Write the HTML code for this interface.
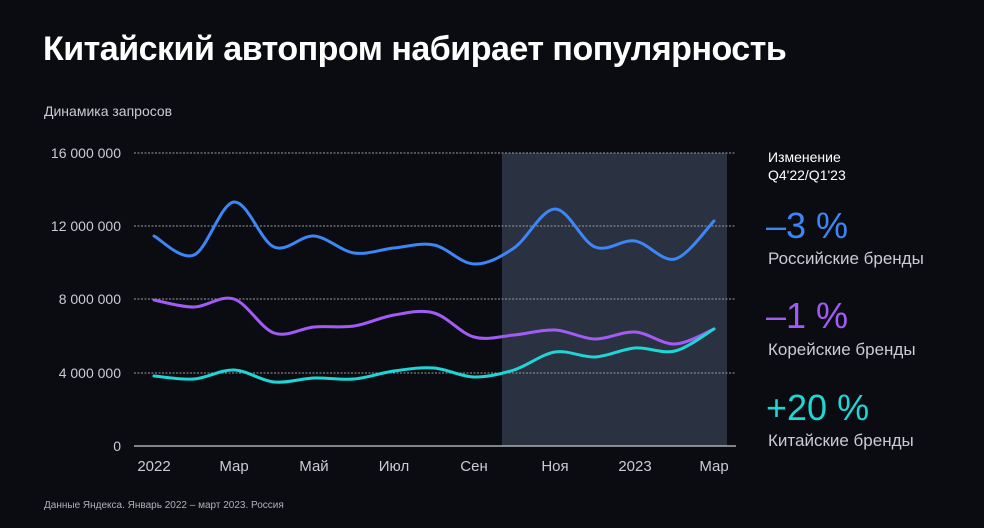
<!DOCTYPE html>
<html><head><meta charset="utf-8"><style>
body{margin:0;background:#0b0c11;width:984px;height:528px;overflow:hidden;font-family:"Liberation Sans",sans-serif;color:#fff;position:relative}
.t{position:absolute;white-space:nowrap}
</style></head><body>
<div class="t" style="left:43px;top:30px;font-size:34px;font-weight:bold;letter-spacing:-0.5px">Китайский автопром набирает популярность</div>
<div class="t" style="left:44px;top:103px;font-size:14px;color:#c9ccd4">Динамика запросов</div>
<svg width="984" height="528" style="position:absolute;left:0;top:0">
<rect x="502" y="153" width="225" height="293" fill="#2a3140"/>
<g stroke="#9a9ca3" stroke-width="1" stroke-dasharray="2,1.5">
<line x1="134" y1="153" x2="736" y2="153"/><line x1="134" y1="226" x2="736" y2="226"/>
<line x1="134" y1="299" x2="736" y2="299"/><line x1="134" y1="373" x2="736" y2="373"/>
</g>
<line x1="134" y1="446" x2="736" y2="446" stroke="#c9ccd4" stroke-width="1.2"/>
<g font-size="14" fill="#c9ccd4" text-anchor="end" font-family="Liberation Sans">
<text x="121" y="158">16 000 000</text><text x="121" y="231">12 000 000</text>
<text x="121" y="304">8 000 000</text><text x="121" y="378">4 000 000</text><text x="121" y="451">0</text>
</g>
<g font-size="15" fill="#c9ccd4" text-anchor="middle" font-family="Liberation Sans">
<text x="154" y="471">2022</text><text x="234" y="471">Мар</text><text x="314" y="471">Май</text>
<text x="394" y="471">Июл</text><text x="474" y="471">Сен</text><text x="555" y="471">Ноя</text>
<text x="635" y="471">2023</text><text x="714" y="471">Мар</text>
</g>
<path id="pb" fill="none" stroke="#3d86f5" stroke-width="3" stroke-linecap="round"/>
<path id="pp" fill="none" stroke="#a25cf5" stroke-width="3" stroke-linecap="round"/>
<path id="pc" fill="none" stroke="#1fd6d6" stroke-width="3" stroke-linecap="round"/>
</svg>
<div class="t" style="left:768px;top:148px;font-size:14px;line-height:18px">Изменение<br>Q4'22/Q1'23</div>
<div class="t" style="left:766px;top:205px;font-size:36px;color:#3d86f5">–3 %</div>
<div class="t" style="left:768px;top:249px;font-size:17px;color:#c9ccd4">Российские бренды</div>
<div class="t" style="left:766px;top:295px;font-size:36px;color:#a25cf5">–1 %</div>
<div class="t" style="left:768px;top:340px;font-size:17px;color:#c9ccd4">Корейские бренды</div>
<div class="t" style="left:766px;top:387px;font-size:36px;color:#1fd6d6">+20 %</div>
<div class="t" style="left:768px;top:431px;font-size:17px;color:#c9ccd4">Китайские бренды</div>
<div class="t" style="left:44px;top:500px;font-size:10px;color:#aeb1b9">Данные Яндекса. Январь 2022 – март 2023. Россия</div>
<script>
var xs=[154,194,234,274,314,354,394,434,474,514,555,595,635,675,714];
function path(ys){var p=xs.map((x,i)=>[x,ys[i]]);var d="M"+p[0][0]+","+p[0][1];
for(var i=0;i<p.length-1;i++){var p0=p[i-1]||p[i],p1=p[i],p2=p[i+1],p3=p[i+2]||p2;
var c1=[p1[0]+(p2[0]-p0[0])/6,p1[1]+(p2[1]-p0[1])/6],c2=[p2[0]-(p3[0]-p1[0])/6,p2[1]-(p3[1]-p1[1])/6];
d+=" C"+c1+" "+c2+" "+p2;}return d;}
document.getElementById("pb").setAttribute("d",path([236,255,202,247,236,253,248,245,264,248,209,247,241,259,221]));
document.getElementById("pp").setAttribute("d",path([300,307,299,333,327,326,315,313,337,335,330,339,332,344,329]));
document.getElementById("pc").setAttribute("d",path([376,379,370,382,378,379,371,368,377,370,352,357,348,351,329]));
</script>
</body></html>
